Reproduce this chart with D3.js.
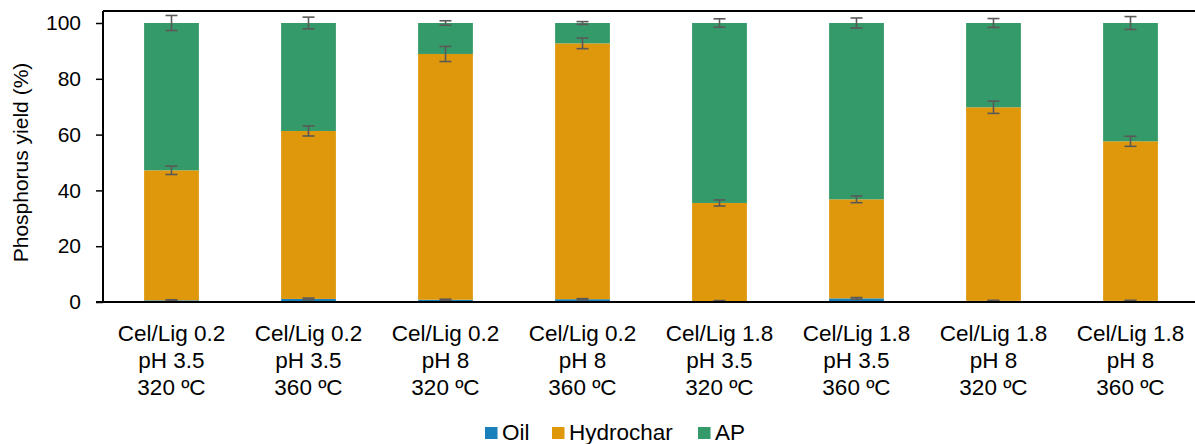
<!DOCTYPE html>
<html>
<head>
<meta charset="utf-8">
<script src="https://cdn.jsdelivr.net/npm/d3@7"></script>
<style>
  body { margin: 0; background: #fff; }
  svg { font-family: "Liberation Sans", Arial, sans-serif; }
</style>
</head>
<body>
<div id="chart"></div>
<script>
var categories = [
  ["Cel/Lig 0.2", "pH 3.5", "320 ºC"],
  ["Cel/Lig 0.2", "pH 3.5", "360 ºC"],
  ["Cel/Lig 0.2", "pH 8", "320 ºC"],
  ["Cel/Lig 0.2", "pH 8", "360 ºC"],
  ["Cel/Lig 1.8", "pH 3.5", "320 ºC"],
  ["Cel/Lig 1.8", "pH 3.5", "360 ºC"],
  ["Cel/Lig 1.8", "pH 8", "320 ºC"],
  ["Cel/Lig 1.8", "pH 8", "360 ºC"]
];
var series = ["Oil", "Hydrochar", "AP"];
var colors = ["#1a80bb", "#df980c", "#359a69"];

var oil = [0.6, 1.1, 0.8, 1.0, 0.3, 1.3, 0.4, 0.4];
var hydrochar = [46.6, 60.2, 88.1, 91.7, 35.2, 35.5, 69.4, 57.2];
var ap = [52.8, 38.7, 11.1, 7.3, 64.5, 63.2, 30.2, 42.4];

var oilErr = [0.2, 0.3, 0.2, 0.2, 0.2, 0.3, 0.2, 0.2];
var hydrocharErr = [1.5, 1.8, 2.7, 1.9, 1.1, 1.2, 2.2, 1.8];
var apErr = [2.7, 2.1, 0.8, 0.5, 1.5, 1.8, 1.6, 2.3];

var yTicks = [0, 20, 40, 60, 80, 100];

var width = 1195, height = 444;
var margin = {top: 11, left: 103, bottom: 142, right: -4};

var svg = d3.select("#chart").append("svg")
  .attr("width", width)
  .attr("height", height);

var x = d3.scaleBand()
  .domain(d3.range(categories.length))
  .range([margin.left, width - margin.right])
  .paddingInner(0.6)
  .paddingOuter(0.3);

var y = d3.scaleLinear()
  .domain([0, 100])
  .range([height - margin.bottom, 23]);

var rows = categories.map(function(c, i) {
  return {i: i, Oil: oil[i], Hydrochar: hydrochar[i], AP: ap[i]};
});
var errs = [oilErr, hydrocharErr, apErr];

var stack = d3.stack().keys(series)(rows);

// bars
stack.forEach(function(layer, k) {
  svg.append("g").selectAll("rect").data(layer)
    .enter().append("rect")
    .attr("x", function(d) { return x(d.data.i); })
    .attr("width", x.bandwidth())
    .attr("y", function(d) { return y(d[1]); })
    .attr("height", function(d) { return y(d[0]) - y(d[1]); })
    .attr("fill", colors[k]);
});

// error bars
stack.forEach(function(layer, k) {
  var g = svg.append("g").attr("stroke", "#595959").attr("stroke-width", 1.6);
  layer.forEach(function(d, i) {
    var cx = x(i) + x.bandwidth() / 2;
    var e = errs[k][i];
    var y1 = y(d[1] + e), y2 = y(d[1] - e);
    g.append("line").attr("x1", cx).attr("x2", cx).attr("y1", y1).attr("y2", y2);
    g.append("line").attr("x1", cx - 6).attr("x2", cx + 6).attr("y1", y1).attr("y2", y1);
    g.append("line").attr("x1", cx - 6).attr("x2", cx + 6).attr("y1", y2).attr("y2", y2);
  });
});

// frame top
svg.append("line")
  .attr("x1", margin.left).attr("x2", width)
  .attr("y1", margin.top).attr("y2", margin.top)
  .attr("stroke", "#000").attr("stroke-width", 2);

// y axis
var yAxis = svg.append("g")
  .attr("transform", "translate(" + margin.left + ",0)")
  .call(d3.axisLeft(y).tickValues(yTicks).tickSize(7).tickSizeOuter(0));
yAxis.select(".domain").remove();
yAxis.append("line")
  .attr("x1", 0).attr("x2", 0)
  .attr("y1", margin.top).attr("y2", y(0))
  .attr("stroke", "#000").attr("stroke-width", 2);
yAxis.selectAll(".tick line").attr("stroke", "#000").attr("stroke-width", 1.5);
yAxis.selectAll(".tick text")
  .attr("font-size", 21)
  .attr("font-family", "Liberation Sans, Arial, sans-serif")
  .attr("fill", "#000")
  .attr("x", -22);

// x axis line
svg.append("line")
  .attr("x1", margin.left - 7).attr("x2", width)
  .attr("y1", y(0)).attr("y2", y(0))
  .attr("stroke", "#000").attr("stroke-width", 2);

// x labels
var xl = svg.append("g");
categories.forEach(function(c, i) {
  var t = xl.append("text")
    .attr("x", x(i) + x.bandwidth() / 2)
    .attr("text-anchor", "middle")
    .attr("font-size", 22.5)
    .attr("fill", "#000");
  c.forEach(function(line, j) {
    t.append("tspan")
      .attr("x", x(i) + x.bandwidth() / 2)
      .attr("y", 341 + j * 27)
      .text(line);
  });
});

// y label
svg.append("text")
  .attr("transform", "translate(28," + ((y(0) + y(100)) / 2) + ") rotate(-90)")
  .attr("text-anchor", "middle")
  .attr("font-size", 21)
  .attr("fill", "#000")
  .text("Phosphorus yield (%)");

// legend
var legX = [485, 552, 698];
var leg = svg.append("g");
series.forEach(function(s, k) {
  leg.append("rect")
    .attr("x", legX[k]).attr("y", 427)
    .attr("width", 12.5).attr("height", 12)
    .attr("fill", colors[k]);
  leg.append("text")
    .attr("x", legX[k] + 17).attr("y", 440)
    .attr("font-size", 22.5)
    .attr("fill", "#000")
    .text(s);
});
</script>
</body>
</html>
